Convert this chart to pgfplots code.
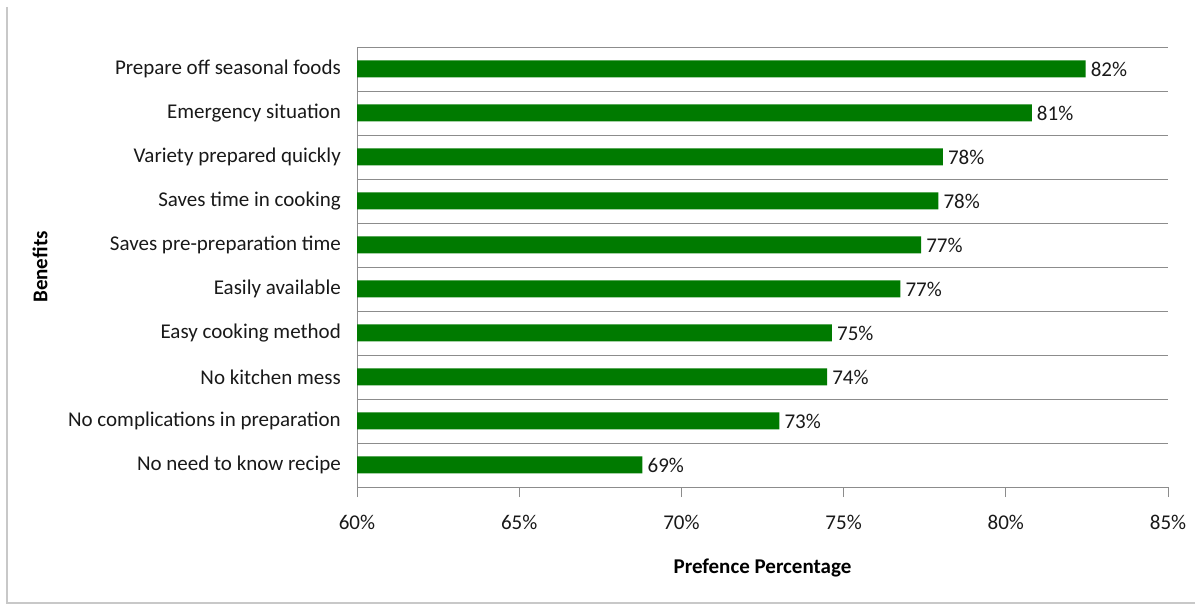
\documentclass[border=0pt]{standalone}
\usepackage{pgfplots}
\pgfplotsset{compat=1.18}
\usepackage{fontspec}
\setmainfont{Carlito}
\definecolor{bargreen}{RGB}{0,122,0}
\definecolor{gridgray}{RGB}{140,140,140}
\definecolor{framegray}{RGB}{200,200,200}
\newcommand{\fs}{\fontsize{21bp}{25bp}\selectfont}
\begin{document}
\begin{tikzpicture}
\useasboundingbox (0,0) rectangle (1197bp,606bp);
\draw[framegray, line width=1.2bp] (7bp,599bp) -- (7bp,3bp) -- (1195bp,3bp);
\begin{axis}[
  at={(357bp,119bp)}, anchor=south west,
  scale only axis, width=811bp, height=440bp,
  xbar, bar width=17bp,
  xmin=60, xmax=85, ymin=-0.5, ymax=9.5,
  axis x line*=bottom, axis y line*=left,
  axis line style={gridgray, line width=0.8bp},
  xtick={60,65,70,75,80,85},
  xticklabels={60\%,65\%,70\%,75\%,80\%,85\%},
  ytick={0,...,9},
  yticklabels={No need to know recipe, No complications in preparation, No kitchen mess, Easy cooking method, Easily available, Saves pre-preparation time, Saves time in cooking, Variety prepared quickly, Emergency situation, Prepare off seasonal foods},
  minor ytick={-0.5,0.5,...,9.5},
  yminorgrids=true,
  minor grid style={gridgray, line width=0.8bp},
  tick align=outside,
  major tick length=10bp,
  minor tick length=12bp,
  ytick style={draw=none},
  minor tick style={gridgray, line width=0.8bp},
  xtick style={gridgray, line width=0.8bp},
  every tick label/.append style={font=\fs, text=black!90},
  yticklabel style={inner sep=0pt, xshift=-6bp},
  xticklabel style={inner sep=0pt, anchor=north, yshift=-18bp},
  xlabel={\textbf{Prefence Percentage}},
  ylabel={\textbf{Benefits}},
  label style={font=\fs, text=black},
  xlabel style={at={(rel axis cs:0.5,-0.1841)}, anchor=center},
  ylabel style={at={(rel axis cs:-0.3909,0.5)}, anchor=center},
  nodes near coords,
  point meta=explicit symbolic,
  every node near coord/.append style={font=\fs, text=black!90, anchor=west, inner sep=0pt, xshift=5bp},
  clip=true,
]
\addplot[fill=bargreen, draw=none] coordinates {
  (68.80,0) [69\%]
  (73.02,1) [73\%]
  (74.49,2) [74\%]
  (74.64,3) [75\%]
  (76.75,4) [77\%]
  (77.39,5) [77\%]
  (77.92,6) [78\%]
  (78.06,7) [78\%]
  (80.80,8) [81\%]
  (82.46,9) [82\%]
};
\end{axis}
\end{tikzpicture}
\end{document}
